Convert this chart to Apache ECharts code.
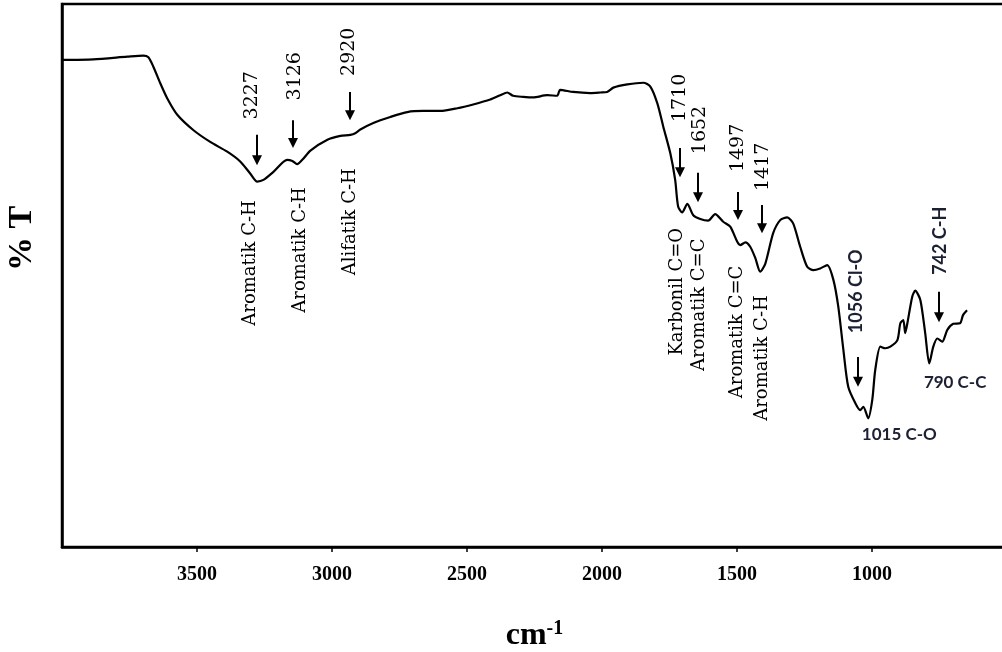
<!DOCTYPE html>
<html><head><meta charset="utf-8">
<script src="https://cdn.jsdelivr.net/npm/echarts@6/dist/echarts.min.js"></script>
<style>html,body{margin:0;padding:0;background:#fff}#c{width:1002px;height:652px}</style>
</head><body><div id="c"></div>
<script>
// Spectrum (wavenumber cm-1, %T)
const wavenumber = [4000,3884,3758,3699,3680,3662,3636,3610,3573,3514,3451,3388,3340,3303,3277,3254,3217,3166,3147,3129,3110,3080,3017,2969,2932,2914,2895,2847,2784,2721,2662,2599,2536,2477,2414,2377,2351,2329,2292,2255,2203,2166,2155,2107,2044,2006,1981,1958,1906,1847,1821,1795,1773,1747,1729,1718,1703,1684,1662,1636,1607,1581,1551,1525,1499,1488,1469,1451,1432,1414,1395,1366,1340,1314,1292,1266,1240,1217,1192,1166,1143,1125,1106,1088,1062,1044,1032,1014,999,988,969,951,932,906,895,884,877,869,851,840,821,803,788,773,758,740,721,699,674,663,648];
const transmittance = [89.7,89.8,90.3,90.5,90.2,88.5,85.4,82.6,79.6,76.8,74.6,72.8,71.0,68.8,67.3,67.6,69.1,71.3,71.1,70.5,71.3,73.0,75.0,75.7,75.9,76.2,76.9,78.1,79.2,80.1,80.3,80.3,80.8,81.5,82.4,83.2,83.7,83.1,82.9,82.8,83.2,83.1,84.2,83.8,83.6,83.7,83.8,84.6,85.2,85.5,84.8,81.7,77.4,72.5,67.6,62.7,61.6,63.2,61.1,60.4,60.1,61.3,59.9,59.0,56.2,55.6,56.1,55.3,53.2,50.7,52.2,57.8,60.2,60.7,59.6,55.3,51.6,51.0,51.3,51.9,49.2,44.3,36.3,29.5,26.5,25.2,25.8,23.7,27.1,32.6,36.9,36.6,36.9,38.1,41.2,41.8,39.4,41.2,46.1,47.2,45.5,39.4,33.8,36.9,38.4,37.8,40.0,41.1,41.2,42.7,43.6];

// Arrows (down-pointing), positions in data units
const arrowWn     = [3277,3144,2932,1710,1643,1495,1407,1051,751];
const arrowTopT   = [75.9,78.6,83.8,73.5,68.9,65.4,63.0,35.0,47.0];
const arrowBotT   = [70.3,73.5,78.6,68.1,63.5,60.2,57.8,29.5,41.4];

// Peak number labels (vertical, serif)
const peakLabels   = ['3227','3126','2920','1710','1652','1497','1417'];
const peakLabelWn  = [3295,3136,2936,1710,1636,1495,1403];
const peakLabelT   = [83.2,86.7,91.2,82.7,76.8,73.5,70.0];

// Group labels (vertical, serif)
const groupLabels  = ['Aromatik C-H','Aromatik C-H','Alifatik C-H','Karbonil C=O','Aromatik C=C','Aromatik C=C','Aromatik C-H'];
const groupLabelWn = [3303,3118,2932,1721,1640,1497,1406];
const groupLabelT  = [52.3,54.7,59.9,47.0,44.6,39.6,34.8];

// Vertical sans labels
const vSansLabels  = ['1056 Cl-O','742 C-H'];
const vSansWn      = [1058,747];
const vSansT       = [47.1,56.4];

// Horizontal sans labels
const hSansLabels  = ['790 C-C','1015 C-O'];
const hSansWn      = [692,899];
const hSansT       = [30.2,20.8];

const chart = echarts.init(document.getElementById('c'), null, {renderer:'canvas'});
chart.setOption({
  animation:false,
  backgroundColor:'#fff',
  grid:{left:62, top:4, width:945, height:543, containLabel:false, outerBoundsMode:'none',
    show:true, borderColor:'#000', borderWidth:2.5, backgroundColor:'transparent'},
  xAxis:{type:'value', inverse:true, min:500, max:4000, interval:500,
    name:'{a|cm}{s|-1}', nameLocation:'middle', nameGap:72,
    nameTextStyle:{rich:{
      a:{fontFamily:'Liberation Serif', fontWeight:'bold', fontSize:32, color:'#000'},
      s:{fontFamily:'Liberation Serif', fontWeight:'bold', fontSize:20, color:'#000', verticalAlign:'top', padding:[0,0,14,0]}
    }},
    axisLine:{show:true, lineStyle:{color:'#000', width:2.5}},
    axisTick:{show:true, length:5, lineStyle:{color:'#000', width:1.5}},
    axisLabel:{showMinLabel:false, showMaxLabel:false, margin:18, color:'#000', fontFamily:'Liberation Serif', fontWeight:'bold', fontSize:20,
      formatter:(v)=>String(v)},
    splitLine:{show:false}},
  yAxis:{type:'value', min:0, max:100,
    name:'% T', nameLocation:'middle', nameRotate:90, nameGap:23,
    nameTextStyle:{fontFamily:'Liberation Serif', fontWeight:'bold', fontSize:34, color:'#000', padding:[0,0,0,74]},
    axisLine:{show:true, lineStyle:{color:'#000', width:2.5}},
    axisTick:{show:false}, axisLabel:{show:false}, splitLine:{show:false}},
  series:[{type:'line', data:wavenumber.map((w,i)=>[w,transmittance[i]]), showSymbol:false, smooth:0.25,
    lineStyle:{color:'#000', width:2.2}, itemStyle:{color:'#000'}}]
});

const px = (w,t)=>chart.convertToPixel({gridIndex:0},[w,t]);
const g = [];
arrowWn.forEach((w,i)=>{
  const a = px(w, arrowTopT[i]); const b = px(w, arrowBotT[i]);
  const x = Math.round(a[0]);
  g.push({type:'line', shape:{x1:x, y1:a[1], x2:x, y2:b[1]-8}, style:{stroke:'#000', lineWidth:2}});
  g.push({type:'polygon', shape:{points:[[x-5,b[1]-10],[x+5,b[1]-10],[x,b[1]]]}, style:{fill:'#000'}});
});
const vText = (txt, w, t, font, color)=>{
  const p = px(w,t);
  g.push({type:'text', x:p[0], y:p[1], rotation:Math.PI/2,
    style:{text:txt, font:font, fill:color, align:'center', verticalAlign:'middle'}});
};
peakLabels.forEach((s,i)=>vText(s, peakLabelWn[i], peakLabelT[i], '19px "DejaVu Serif"', '#000'));
groupLabels.forEach((s,i)=>vText(s, groupLabelWn[i], groupLabelT[i], '18px "DejaVu Serif"', '#000'));
vSansLabels.forEach((s,i)=>vText(s, vSansWn[i], vSansT[i], 'bold 18px Lato', '#1c2033'));
hSansLabels.forEach((s,i)=>{
  const p = px(hSansWn[i], hSansT[i]);
  g.push({type:'text', x:p[0], y:p[1], style:{text:s, font:'bold 17px Lato', fill:'#1c2033', align:'center', verticalAlign:'middle'}});
});
chart.setOption({graphic:g});
</script></body></html>
